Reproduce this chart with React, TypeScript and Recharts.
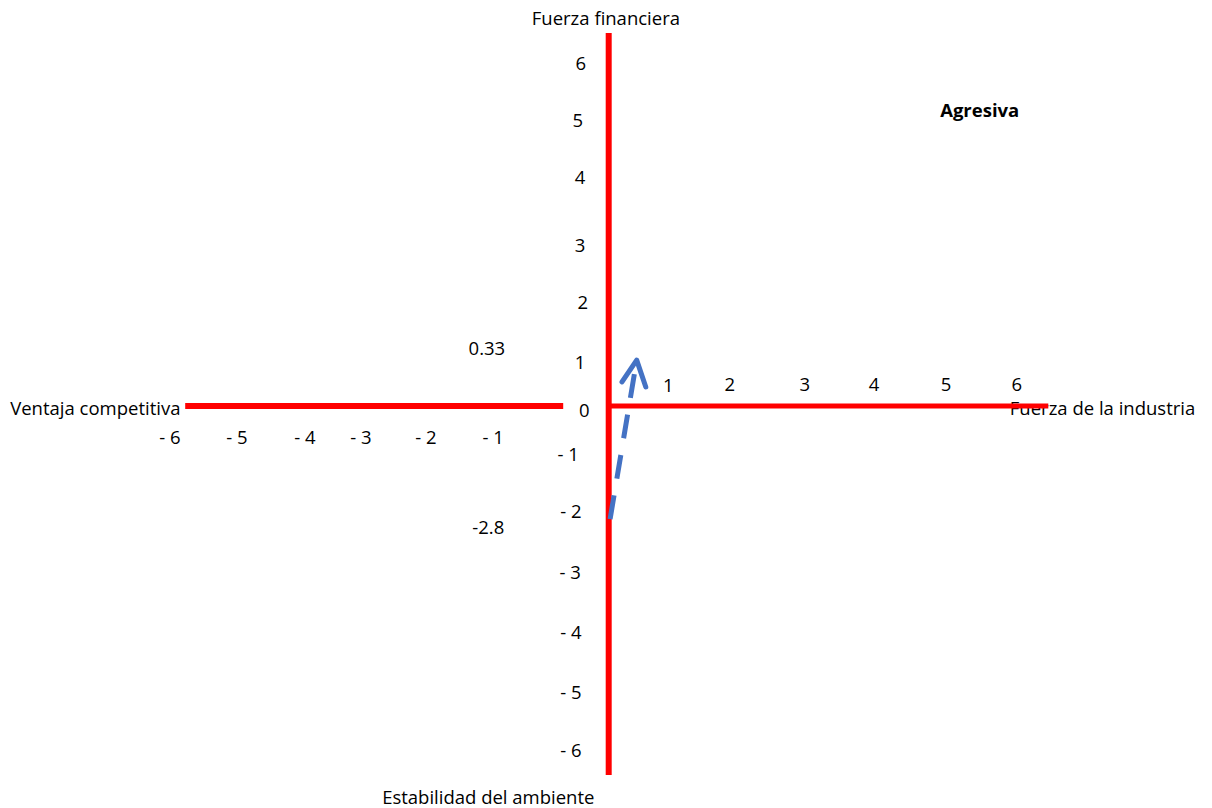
import React from "react";
import { ScatterChart, Scatter, XAxis, YAxis } from "recharts";

// Data units: origin at the crossing of the red axes.
const yTickLabels = [
  { text: "6", x: -0.39, y: 6.14 },
  { text: "5", x: -0.43, y: 5.11 },
  { text: "4", x: -0.4, y: 4.09 },
  { text: "3", x: -0.4, y: 2.88 },
  { text: "2", x: -0.36, y: 1.86 },
  { text: "1", x: -0.4, y: 0.79 },
  { text: "0", x: -0.34, y: -0.07 },
  { text: "- 1", x: -0.57, y: -0.84 },
  { text: "- 2", x: -0.53, y: -1.86 },
  { text: "- 3", x: -0.54, y: -2.96 },
  { text: "- 4", x: -0.53, y: -4.02 },
  { text: "- 5", x: -0.53, y: -5.09 },
  { text: "- 6", x: -0.53, y: -6.14 },
];

const xTickLabels = [
  { text: "- 6", x: -6.26, y: -0.55 },
  { text: "- 5", x: -5.3, y: -0.55 },
  { text: "- 4", x: -4.33, y: -0.55 },
  { text: "- 3", x: -3.53, y: -0.55 },
  { text: "- 2", x: -2.6, y: -0.55 },
  { text: "- 1", x: -1.64, y: -0.55 },
  { text: "1", x: 0.86, y: 0.38 },
  { text: "2", x: 1.74, y: 0.41 },
  { text: "3", x: 2.81, y: 0.41 },
  { text: "4", x: 3.8, y: 0.41 },
  { text: "5", x: 4.83, y: 0.41 },
  { text: "6", x: 5.84, y: 0.41 },
];

const valueLabels = [
  { text: "0.33", x: -1.73, y: 1.04 },
  { text: "-2.8", x: -1.71, y: -2.16 },
];

const axisTitles = [
  { text: "Fuerza financiera", x: -0.03, y: 6.93, anchor: "middle" },
  { text: "Estabilidad del ambiente", x: -1.71, y: -6.98, anchor: "middle" },
  { text: "Ventaja competitiva", x: -8.54, y: -0.02, anchor: "start" },
  { text: "Fuerza de la industria", x: 5.74, y: -0.02, anchor: "start" },
];

const quadrantLabels = [{ text: "Agresiva", x: 5.31, y: 5.29, bold: true }];

const verticalAxis = [
  { x: 0.01, y: 6.66 },
  { x: 0.01, y: -6.59 },
];
const leftAxis = [
  { x: -6.04, y: 0 },
  { x: -0.64, y: 0 },
];
const rightAxis = [
  { x: 0.04, y: 0 },
  { x: 6.29, y: 0 },
];

const vectorShaft = [
  { x: 0.03, y: -2.02 },
  { x: 0.41, y: 0.82 },
];
const vectorHead = [
  { x: 0.2, y: 0.43 },
  { x: 0.41, y: 0.82 },
  { x: 0.54, y: 0.34 },
];

const FONT = "'Open Sans', Lato, sans-serif";

function TextShape(props: any) {
  const p = props.payload ?? props;
  return (
    <text
      x={props.cx}
      y={props.cy}
      textAnchor={p.anchor ?? "middle"}
      dominantBaseline="central"
      fontFamily={FONT}
      fontSize={18.5}
      fontWeight={p.bold ? 700 : 400}
      fill="#000"
    >
      {p.text}
    </text>
  );
}

const NoDot = () => <g />;

export default function App() {
  return (
    <div style={{ position: "absolute", left: 0, top: 0, background: "#fff" }}>
      <ScatterChart width={1212} height={808} margin={{ top: 14, right: 44, bottom: 10, left: 6 }}>
        <XAxis type="number" dataKey="x" domain={[-8.6, 8]} hide />
        <YAxis type="number" dataKey="y" domain={[-7, 7]} hide />
        <Scatter data={axisTitles} shape={TextShape} isAnimationActive={false} />
        <Scatter data={yTickLabels} shape={TextShape} isAnimationActive={false} />
        <Scatter data={xTickLabels} shape={TextShape} isAnimationActive={false} />
        <Scatter data={valueLabels} shape={TextShape} isAnimationActive={false} />
        <Scatter data={quadrantLabels} shape={TextShape} isAnimationActive={false} />
        <Scatter data={verticalAxis} shape={NoDot} line={{ stroke: "#FF0000", strokeWidth: 6 }} fill="none" isAnimationActive={false} />
        <Scatter data={leftAxis} shape={NoDot} line={{ stroke: "#FF0000", strokeWidth: 6 }} fill="none" isAnimationActive={false} />
        <Scatter data={rightAxis} shape={NoDot} line={{ stroke: "#FF0000", strokeWidth: 5 }} fill="none" isAnimationActive={false} />
        <Scatter
          data={vectorShaft}
          shape={NoDot}
          line={{ stroke: "#4472C4", strokeWidth: 5, strokeDasharray: "24 17" }}
          fill="none"
          isAnimationActive={false}
        />
        <Scatter
          data={vectorHead}
          shape={NoDot}
          line={{ stroke: "#4472C4", strokeWidth: 5, strokeLinecap: "round", strokeLinejoin: "round" }}
          fill="none"
          isAnimationActive={false}
        />
      </ScatterChart>
    </div>
  );
}
